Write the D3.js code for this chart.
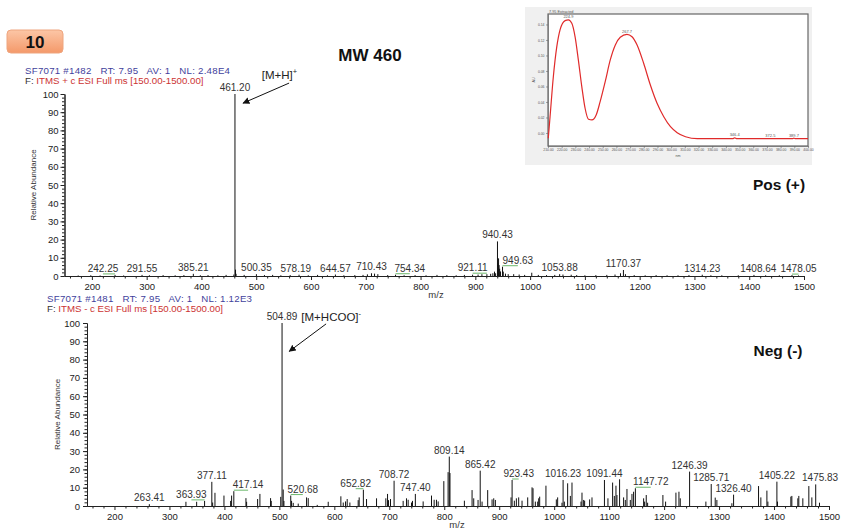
<!DOCTYPE html>
<html lang="en">
<head>
<meta charset="UTF-8" />
<title>MW 460 ESI-MS</title>
<style>
  body { margin: 0; background: #fff; }
  svg { display: block; font-family: "Liberation Sans", Arial, sans-serif; }
  .axis text { font-size: 9.5px; fill: #222; font-family: "Liberation Sans", Arial, sans-serif; }
  .axis path, .axis line { stroke: #222; }
  .peak { stroke: #111; stroke-width: 1; }
  .plabel { font-size: 10px; fill: #333; text-anchor: middle; }
  .hdr { font-size: 9.7px; white-space: pre; }
  .uv text { font-size: 3.4px; fill: #555; }
  .uv .tk path, .uv .tk line { stroke: #666; stroke-width: 0.6; }
</style>
</head>
<body>
<svg width="842" height="532"></svg>
<script src="https://d3js.org/d3.v7.min.js"></script>
<script>
// positive mode spectrum (m/z, relative abundance)
const posMz = [175, 198, 215, 242.25, 258, 291.55, 305, 330, 352, 368,
  385.21, 398, 412, 430, 445, 459.2, 461.20, 462.2, 463.2, 478,
  500.35, 515, 530, 545, 562, 578.19, 595, 612, 630, 644.57,
  660, 680, 695, 703, 710.43, 716, 722, 740, 754.34, 770,
  790, 810, 830, 848, 865, 880, 895, 905, 912, 921.11,
  928, 932, 935, 937, 940.43, 941.4, 942.4, 943.4, 944.4, 946,
  949.63, 951, 955, 960, 970, 980, 990, 1003, 1015, 1030,
  1045, 1053.88, 1060, 1075, 1085, 1100, 1120, 1140, 1155, 1165,
  1170.37, 1174, 1190, 1210, 1230, 1250, 1270, 1290, 1314.23, 1330,
  1350, 1380, 1408.64, 1430, 1455, 1478.05, 1490];
const posInt = [0.3, 0.4, 0.3, 0.6, 0.3, 0.6, 0.4, 0.5, 0.4, 0.5,
  1.2, 0.4, 0.5, 0.4, 0.6, 0.8, 100, 3.5, 1.2, 0.6,
  1.0, 0.5, 0.6, 0.4, 0.5, 0.7, 0.4, 0.6, 0.4, 0.8,
  0.4, 0.5, 0.6, 0.9, 1.5, 1.3, 1.0, 0.5, 0.7, 0.4,
  0.5, 0.4, 0.6, 0.5, 0.4, 0.6, 0.7, 0.8, 1.0, 1.0,
  1.2, 1.5, 2.4, 1.5, 19, 7, 9.7, 6, 4, 2.5,
  5.1, 2.4, 1.3, 1.0, 1.0, 0.8, 0.6, 1.8, 0.6, 0.5,
  0.6, 1.0, 0.8, 0.7, 0.5, 0.4, 0.5, 0.6, 0.8, 1.5,
  3.3, 1.0, 0.5, 0.4, 0.5, 0.4, 0.4, 0.5, 0.7, 0.4,
  0.4, 0.4, 0.6, 0.4, 0.4, 0.5, 0.3];
const posLabels = ["242.25", "291.55", "385.21", "461.20", "500.35", "578.19", "644.57",
  "710.43", "754.34", "921.11", "940.43", "949.63", "1053.88", "1170.37",
  "1314.23", "1408.64", "1478.05"];

// negative mode spectrum
const negMz = [263.41, 330, 349.5, 363.93, 377.11, 378.6, 382.8, 399.2, 411.3, 413.1,
  417.14, 439.2, 440.4, 460.4, 464.6, 484, 485.2, 502.5, 504.89, 507,
  508.3, 520.68, 522.2, 525.2, 534.3, 549.5, 552.5, 568.9, 588.9, 611.9,
  616.2, 620.4, 623.4, 628.3, 643.4, 645.2, 652.82, 658.6, 676.8, 693.7,
  696.8, 698.6, 702.2, 708.72, 725.2, 731.3, 734.3, 740.4, 742.2, 747.40,
  761.6, 776.8, 781.6, 785.8, 788.9, 799.2, 807, 809.14, 810.4, 836.6,
  850.6, 853.6, 861.5, 865.42, 868.8, 879, 887, 890, 893, 921.5,
  923.43, 927.5, 931.2, 935.4, 941.5, 951.8, 959.7, 961.5, 965.7, 970,
  971.8, 973.6, 985, 1003.9, 1006.3, 1014.2, 1016.23, 1018.5, 1024.5, 1029.4,
  1032.4, 1048.8, 1050.6, 1053.6, 1055.4, 1064.5, 1068.8, 1091.44, 1097.8, 1106.3,
  1109.4, 1112.4, 1114.2, 1119, 1126.3, 1129.4, 1132.4, 1138.5, 1141.5, 1144.5,
  1147.72, 1162.7, 1164.5, 1167.5, 1170, 1197.8, 1202.7, 1221.5, 1227, 1229.4,
  1246.39, 1276, 1285.71, 1293, 1296, 1323.3, 1326.40, 1371.8, 1376, 1387,
  1388.8, 1405.22, 1406.3, 1430.6, 1432.4, 1443.3, 1445.1, 1452.4, 1463.3, 1468.8,
  1475.83, 1482.7];
const negInt = [1, 2.3, 2.3, 2.8, 13.2, 1.9, 7.2, 5.7, 2.8, 5.7,
  8.1, 4.3, 2.3, 3.8, 6.6, 4.3, 2.8, 5, 100, 9,
  2.8, 5.7, 2.8, 1.7, 1.3, 4.7, 4.3, 0.6, 2.3, 5.3,
  1.9, 2.5, 3.8, 1.9, 3.2, 4.7, 8.9, 3.8, 4.2, 4.2,
  6.6, 3.2, 3.8, 13.8, 2.8, 4.2, 3.4, 1.9, 2.8, 6.6,
  2.5, 5.7, 3.4, 3.4, 2.5, 13.6, 18.5, 27, 18, 2.9,
  8.7, 4.2, 3.3, 19.3, 2.4, 8.7, 3.6, 4.2, 3.3, 4.7,
  14.2, 2.9, 4.2, 4.7, 2.9, 4.7, 10.2, 9.7, 2.4, 2.4,
  4.2, 5.1, 11.1, 3.6, 4.7, 1.8, 14.2, 2.4, 12.4, 5.5,
  12.8, 2.4, 7.3, 3.3, 2.9, 3.6, 4.7, 14.2, 4.2, 12.8,
  5.5, 11.1, 6, 14.6, 4.7, 3.3, 9.3, 3.3, 6.6, 7.8,
  9.7, 4.2, 2.4, 6, 1.8, 6, 2.4, 7.3, 7.8, 4.2,
  18.8, 2.4, 12, 4.6, 3.3, 1.5, 6.2, 10.9, 4.7, 8.4,
  2.4, 13.3, 2.4, 5.1, 5.5, 4.2, 5.5, 4.2, 10.9, 4.7,
  11.8, 1.8];
const negLabels = ["263.41", "363.93", "377.11", "417.14", "504.89", "520.68", "652.82",
  "708.72", "747.40", "809.14", "865.42", "923.43", "1016.23", "1091.44", "1147.72",
  "1246.39", "1285.71", "1326.40", "1405.22", "1475.83"];

const mzTicks = d3.range(200, 1501, 100);
const abTicks = d3.range(0, 101, 10);

// UV trace in the inset (nm, AU)
const uvNm = [210.2, 211.5, 213.9, 216.4, 218.8, 222.5, 224.9, 227.4, 229.8, 232.2,
  234.7, 237.1, 239.6, 242.1, 245.2, 248.1, 251.8, 255.5, 259.2, 262.8,
  267.7, 271.4, 275.1, 279.9, 284.8, 289.7, 294.6, 299.5, 304.4, 310.5,
  319.1, 345, 346.4, 348, 389, 389.7, 390.5, 400];
const uvAu = [-0.0068, 0.021, 0.0726, 0.111, 0.133, 0.145, 0.146, 0.1415, 0.124, 0.094,
  0.0597, 0.0319, 0.0177, 0.0168, 0.0232, 0.0404, 0.0662, 0.0942, 0.1135, 0.1235,
  0.1273, 0.1242, 0.1135, 0.0899, 0.0619, 0.0383, 0.021, 0.0081, 0.0004, -0.0048,
  -0.0074, -0.0074, -0.0062, -0.0074, -0.0074, -0.0066, -0.0074, -0.0074];
const uvLabels = ["224.9", "267.7", "346.4", "372.5", "389.7"];

const svg = d3.select("svg");
const defs = svg.append("defs");
const grad = defs.append("linearGradient").attr("id", "badge").attr("x1", 0).attr("y1", 0).attr("x2", 0).attr("y2", 1);
grad.append("stop").attr("offset", "0%").attr("stop-color", "#fcc6a6");
grad.append("stop").attr("offset", "100%").attr("stop-color", "#f4996a");
defs.append("marker").attr("id", "arr").attr("viewBox", "0 0 10 10")
  .attr("refX", 9).attr("refY", 5).attr("markerWidth", 7).attr("markerHeight", 7)
  .attr("markerUnits", "userSpaceOnUse").attr("orient", "auto")
  .append("path").attr("d", "M0,0 L10,5 L0,10 z").attr("fill", "#111");

// badge + titles
svg.append("rect").attr("x", 7).attr("y", 30).attr("width", 56).attr("height", 23)
  .attr("rx", 4).attr("fill", "url(#badge)").attr("stroke", "#eea57f");
svg.append("text").attr("x", 35).attr("y", 47.5).attr("text-anchor", "middle")
  .attr("font-size", 17).attr("font-weight", "bold").attr("fill", "#111").text("10");
svg.append("text").attr("x", 370).attr("y", 61).attr("text-anchor", "middle")
  .attr("font-size", 17).attr("font-weight", "bold").attr("fill", "#111").text("MW 460");
svg.append("text").attr("x", 779).attr("y", 190).attr("text-anchor", "middle")
  .attr("font-size", 15.5).attr("font-weight", "bold").attr("fill", "#111").text("Pos (+)");
svg.append("text").attr("x", 778).attr("y", 356).attr("text-anchor", "middle")
  .attr("font-size", 15.5).attr("font-weight", "bold").attr("fill", "#111").text("Neg (-)");

function header(x, y, scan, nl, sign) {
  svg.append("text").attr("class", "hdr").attr("x", x).attr("y", y).attr("fill", "#3f3f9c")
    .attr("letter-spacing", 0.25)
    .text("SF7071 #" + scan + "   RT: 7.95   AV: 1   NL: " + nl);
  const t = svg.append("text").attr("class", "hdr").attr("x", x).attr("y", y + 10.5);
  t.append("tspan").attr("fill", "#333").text("F: ");
  t.append("tspan").attr("fill", "#cc3333").text("ITMS " + sign + " c ESI Full ms [150.00-1500.00]");
}
header(25, 73.5, 1482, "2.48E4", "+");
header(47, 301.5, 1481, "1.12E3", "-");

// label shifts (m/z units) where the instrument moved a label off its peak
const nudge = {"242.25": -22, "754.34": 26, "921.11": -26, "949.63": 28, "1408.64": 8,
  "1478.05": 12, "578.19": -6, "363.93": -24, "417.14": 26, "520.68": 22, "652.82": -14,
  "923.43": 12, "1147.72": 28, "1475.83": 8};

function drawSpectrum(o) {
  const x = d3.scaleLinear().domain([150, 1500]).range([o.x0, o.x1]);
  const y = d3.scaleLinear().domain([0, 100]).range([o.y0, o.y1]);
  const g = svg.append("g");

  g.append("g").attr("class", "axis").attr("transform", "translate(0," + o.y0 + ")")
    .call(d3.axisBottom(x).tickValues(d3.range(160, 1500, 20).filter(v => v % 100)).tickFormat("").tickSize(2.5).tickSizeOuter(0));
  g.append("g").attr("class", "axis").attr("transform", "translate(0," + o.y0 + ")")
    .call(d3.axisBottom(x).tickValues(mzTicks).tickFormat(d3.format("d")).tickSize(4).tickPadding(3).tickSizeOuter(0));
  g.append("g").attr("class", "axis").attr("transform", "translate(" + o.x0 + ",0)")
    .call(d3.axisLeft(y).tickValues(d3.range(0, 101, 2)).tickFormat("").tickSize(2.5).tickSizeOuter(0));
  g.append("g").attr("class", "axis").attr("transform", "translate(" + o.x0 + ",0)")
    .call(d3.axisLeft(y).tickValues(abTicks).tickSize(4).tickPadding(o.pad).tickSizeOuter(0));

  g.append("text").attr("transform", "translate(" + o.ylabX + "," + (o.y0 + o.y1) / 2 + ") rotate(-90)")
    .attr("text-anchor", "middle").attr("font-size", 8).attr("fill", "#333").text("Relative Abundance");
  g.append("text").attr("x", o.mzX).attr("y", o.y0 + 21.5).attr("text-anchor", "middle")
    .attr("font-size", 9.5).attr("fill", "#333").text("m/z");

  g.selectAll("line.peak").data(d3.zip(o.mz, o.int)).join("line").attr("class", "peak")
    .attr("x1", d => x(d[0])).attr("x2", d => x(d[0]))
    .attr("y1", y(0)).attr("y2", d => y(d[1]));

  const lab = o.labels.map(s => {
    const i = o.mz.findIndex(m => Math.abs(m - +s) < 0.005);
    return {text: s, mz: o.mz[i], int: o.int[i], shift: nudge[s] || 0};
  });
  g.selectAll("line.conn").data(lab.filter(d => Math.abs(d.shift) >= 10)).join("line")
    .attr("class", "conn").attr("stroke", "#6cb86c").attr("stroke-width", 1)
    .attr("x1", d => x(d.mz)).attr("x2", d => x(d.mz + d.shift))
    .attr("y1", d => y(d.int) - 1).attr("y2", d => y(d.int) - 1);
  g.selectAll("text.plabel").data(lab).join("text").attr("class", "plabel")
    .attr("x", d => x(d.mz + d.shift)).attr("y", d => y(d.int) - 3)
    .text(d => d.text);

  // annotation with arrow
  const a = o.note;
  g.append("line").attr("x1", x(a.from[0])).attr("y1", y(a.from[1]))
    .attr("x2", x(a.to[0])).attr("y2", y(a.to[1]))
    .attr("stroke", "#111").attr("stroke-width", 1).attr("marker-end", "url(#arr)");
  const t = g.append("text").attr("x", x(a.text[0])).attr("y", y(a.text[1]))
    .attr("font-size", 11.5).attr("fill", "#222");
  t.append("tspan").text(a.label);
  t.append("tspan").attr("dy", -5).attr("font-size", 7.5).text(a.sup);
}

drawSpectrum({x0: 64.5, x1: 804, y0: 276, y1: 94, pad: 2, ylabX: 36, mzX: 436,
  mz: posMz, int: posInt, labels: posLabels,
  note: {label: "[M+H]", sup: "+", text: [510, 108], from: [560, 106], to: [476, 95]}});
drawSpectrum({x0: 87, x1: 829, y0: 506, y1: 323, pad: 3, ylabX: 60, mzX: 457,
  mz: negMz, int: negInt, labels: negLabels,
  note: {label: "[M+HCOO]", sup: "-", text: [540, 101], from: [585, 99.5], to: [518, 84.5]}});

// UV inset
const uv = svg.append("g").attr("class", "uv");
uv.append("rect").attr("x", 525).attr("y", 7).attr("width", 287).attr("height", 158).attr("fill", "#f0f0f0");
uv.append("rect").attr("x", 548).attr("y", 14).attr("width", 260).attr("height", 132)
  .attr("fill", "#fff").attr("stroke", "#666").attr("stroke-width", 1.2);
const ux = d3.scaleLinear().domain([210, 400]).range([548, 808]);
const uy = d3.scaleLinear().domain([-0.0168, 0.1535]).range([146, 14]);
uv.append("g").attr("class", "tk").attr("transform", "translate(0,146)")
  .call(d3.axisBottom(ux).tickValues(d3.range(210, 401, 10)).tickFormat(d3.format(".2f")).tickSize(2).tickPadding(1).tickSizeOuter(0));
uv.append("g").attr("class", "tk").attr("transform", "translate(548,0)")
  .call(d3.axisLeft(uy).tickValues(d3.range(0, 0.141, 0.02)).tickFormat(d3.format(".2f")).tickSize(2).tickPadding(1.5).tickSizeOuter(0));
uv.append("path").datum(d3.zip(uvNm, uvAu))
  .attr("d", d3.line().x(d => ux(d[0])).y(d => uy(d[1])).curve(d3.curveMonotoneX))
  .attr("fill", "none").attr("stroke", "#e02a2a").attr("stroke-width", 1.2);
const uvAt = nm => {
  const i = d3.bisector(d => d).left(uvNm, nm);
  return uvAu[Math.min(i, uvNm.length - 1)];
};
uv.selectAll("text.pk").data(uvLabels).join("text").attr("class", "pk")
  .attr("x", d => ux(+d)).attr("y", d => uy(uvAt(+d)) - 1.5)
  .attr("text-anchor", "middle").attr("fill", "#e02a2a").style("font-size", "4px").text(d => d);
uv.append("text").attr("x", 678).attr("y", 157).attr("text-anchor", "middle").style("font-size", "3.6px").text("nm");
uv.append("text").attr("transform", "translate(535,80) rotate(-90)").attr("text-anchor", "middle").style("font-size", "3.6px").text("AU");
uv.append("text").attr("x", 549).attr("y", 12.5).style("font-size", "3.8px").attr("fill", "#444").text("7.95 Extracted");
</script>
</body>
</html>
